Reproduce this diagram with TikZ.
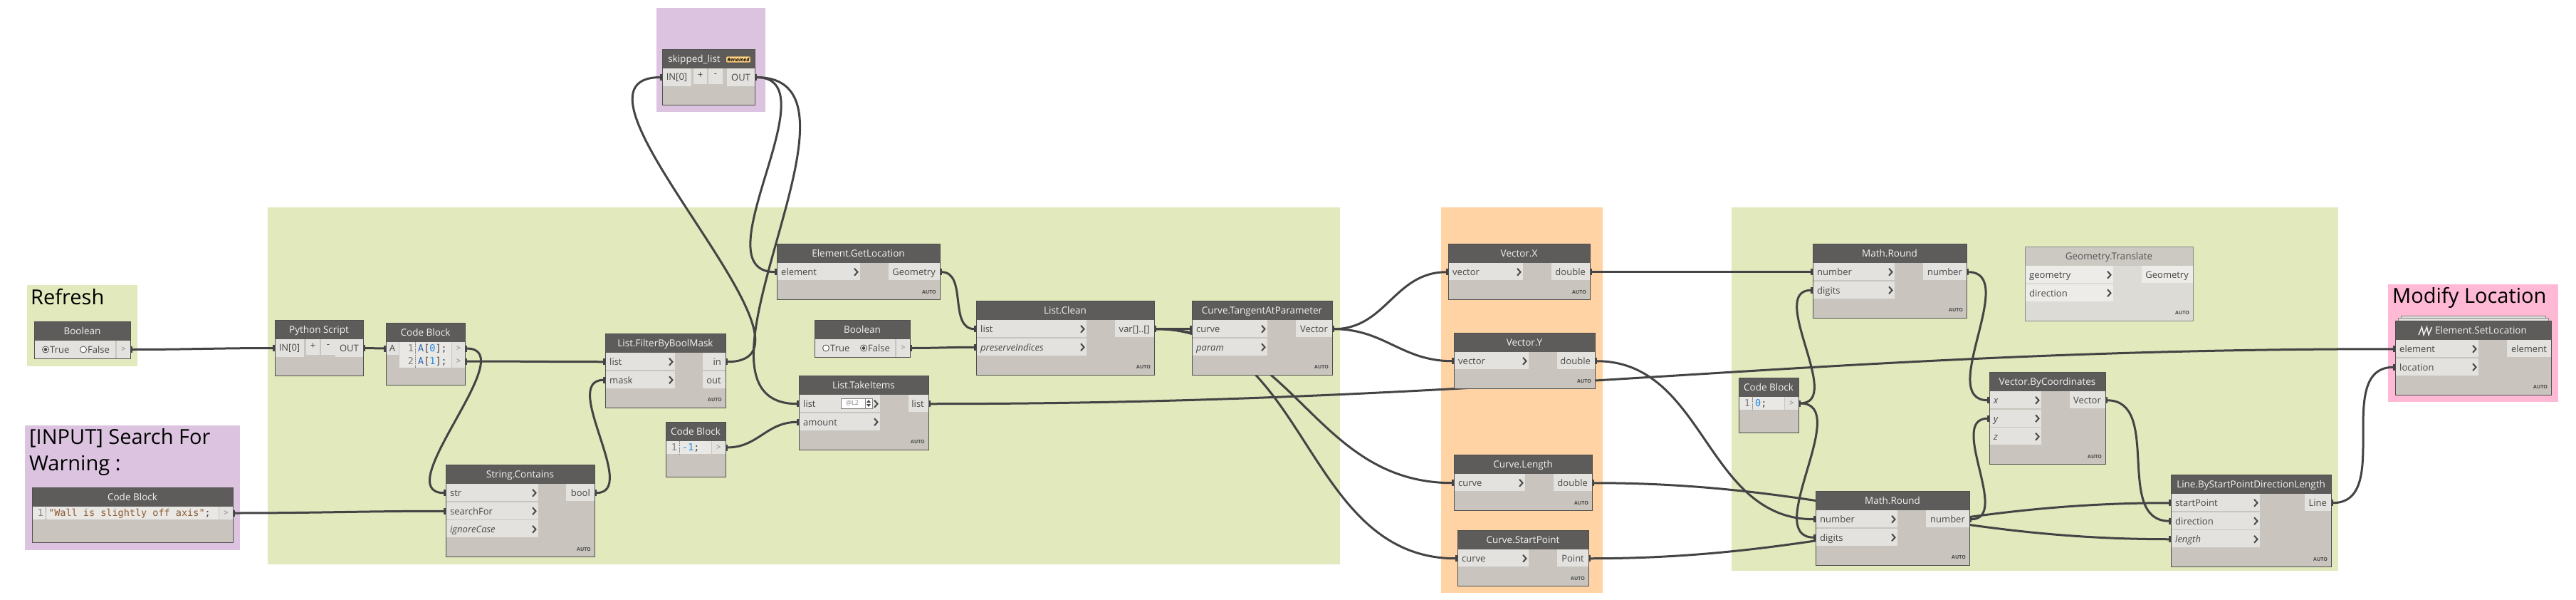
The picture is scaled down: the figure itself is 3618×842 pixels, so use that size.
\documentclass[tikz,border=0pt]{standalone}
\usepackage{fontspec}
\setmainfont{Open Sans}
\setmonofont{DejaVu Sans Mono}
\usetikzlibrary{arrows.meta,calc}
\pgfdeclarelayer{groups}
\pgfdeclarelayer{wires}
\pgfsetlayers{groups,wires,main}
% colours
\definecolor{grpgreen}{RGB}{225,233,189}
\definecolor{grporange}{RGB}{255,211,163}
\definecolor{grplilac}{RGB}{220,196,225}
\definecolor{grppink}{RGB}{255,185,213}
\definecolor{dhead}{RGB}{94,92,90}
\definecolor{dbody}{RGB}{201,197,190}
\definecolor{dport}{RGB}{227,226,222}
\definecolor{dcode}{RGB}{233,232,229}
\definecolor{nline}{RGB}{80,80,80}
\definecolor{wirec}{RGB}{68,68,68}
\definecolor{ptxt}{RGB}{72,72,72}
\definecolor{htc}{RGB}{244,244,244}
\definecolor{cvar}{RGB}{43,101,176}
\definecolor{cnum}{RGB}{30,136,229}
\definecolor{cstr}{RGB}{140,90,50}
\definecolor{badgec}{RGB}{255,210,128}
\tikzset{
  htext/.style={text=htc,font=\fontsize{13.5}{15}\selectfont,inner sep=0pt,anchor=base},
  ptext/.style={text=ptxt,font=\fontsize{13}{15}\selectfont,inner sep=0pt},
  autotxt/.style={text=ptxt,font=\fontsize{7}{8}\selectfont\bfseries,inner sep=0pt},
  nframe/.style={draw=nline,line width=1.2pt,inner sep=0pt},
  chev/.style={draw=ptxt,line width=2pt,line join=miter},
  wire/.style={draw=wirec,line width=3pt,arrows={Rectangle[length=3pt,width=9pt]-Rectangle[length=3pt,width=9pt]}},
  grouptitle/.style={font=\fontsize{29}{34}\selectfont,inner sep=0pt,anchor=base west},
  radio/.style={circle,draw=ptxt,fill=white,line width=.8pt,minimum size=9pt,inner sep=0pt},
  ctext/.style={font=\ttfamily\fontsize{13.5}{15}\selectfont,inner sep=0pt,text=ptxt,anchor=base west},
  lnum/.style={font=\ttfamily\fontsize{13.5}{15}\selectfont,inner sep=0pt,text=gray,anchor=base},
  lsep/.style={draw=gray,densely dotted,line width=.6pt},
  outmark/.style={text=gray,font=\fontsize{11}{12}\selectfont,inner sep=0pt},
  badge/.style={rounded corners=2pt,fill=badgec,draw=black!70,line width=.6pt,
    font=\fontsize{7}{8}\selectfont\bfseries\itshape,inner xsep=2pt,inner ysep=1pt,minimum height=9pt}
}
% name, x, y, width, title, inputs, outputs, input width, output width
\newcommand\dnode[9]{%
  \foreach \a [count=\k] in {#6} {\xdef\nin{\k}}%
  \foreach \a [count=\k] in {#7} {\xdef\nout{\k}}%
  \pgfmathsetmacro\nh{27+25.5*max(\nin,\nout)+25.5}%
  \begin{scope}[shift={(#2,#3)}]
    \fill[dbody] (0,0) rectangle (#4,\nh);
    \fill[dhead] (0,0) rectangle (#4,27);
    \node[htext] (#1-t) at (#4/2,18.5) {#5};
    \foreach \a [count=\k] in {#6} {
      \fill[dport] (0,{27+25.5*(\k-1)}) rectangle (#8,{25.5+25.5*\k});
      \node[ptext,anchor=base west] (#1-il\k) at (6,{32+25.5*(\k-.5)}) {\a};
      \draw[chev] ({#8-8},{22+25.5*(\k-.5)}) -- ++(4.5,5) -- ++(-4.5,5);
      \coordinate (#1-in\k) at (0,{27+25.5*(\k-.5)});
    }
    \foreach \a [count=\k] in {#7} {
      \fill[dport] ({#4-#9},{27+25.5*(\k-1)}) rectangle (#4,{25.5+25.5*\k});
      \node[ptext,anchor=base east] (#1-ol\k) at ({#4-6},{32+25.5*(\k-.5)}) {\a};
      \coordinate (#1-out\k) at (#4,{27+25.5*(\k-.5)});
    }
    \node[autotxt,anchor=base east] (#1-a) at ({#4-5},{\nh-8}) {AUTO};
    \node[nframe,minimum width=#4pt,minimum height=\nh pt,anchor=north west] (#1) at (0,0) {};
  \end{scope}}
% python script style node: name, x, y, width, title
\newcommand\pynode[5]{%
  \begin{scope}[shift={(#2,#3)}]
    \fill[dbody] (0,0) rectangle (#4,78);
    \fill[dhead] (0,0) rectangle (#4,27);
    \node[htext] (#1-t) at (#4/2,18.5) {#5};
    \fill[dport] (0,27) rectangle (41,52);
    \node[ptext] (#1-il1) at (20.5,39.5) {IN[0]};
    \fill[dport] (44,27) rectangle (63,49);
    \node[ptext] (#1-add) at (53.5,37) {+};
    \fill[dport] (65,27) rectangle (85,49);
    \node[ptext] (#1-del) at (75,37) {-};
    \fill[dport] ({#4-39},27) rectangle (#4,52);
    \node[ptext] (#1-ol1) at ({#4-19.5},39.5) {OUT};
    \coordinate (#1-in1) at (0,39.5);
    \coordinate (#1-out1) at (#4,39.5);
    \node[nframe,minimum width=#4pt,minimum height=78pt,anchor=north west] (#1) at (0,0) {};
  \end{scope}}
% boolean node: name, x, y, width, selected (1 or 2)
\newcommand\boolnode[5]{%
  \begin{scope}[shift={(#2,#3)}]
    \fill[dbody] (0,0) rectangle (#4,52);
    \fill[dhead] (0,0) rectangle (#4,27);
    \node[htext] (#1-t) at (#4/2,18.5) {Boolean};
    \fill[dport] (0,27) rectangle ({#4-21},52);
    \fill[dport] ({#4-19},27) rectangle (#4,52);
    \node[radio] (#1-r1) at (16,39.5) {};
    \node[ptext,anchor=base west] (#1-l1) at (22,44.5) {True};
    \node[radio] (#1-r2) at (69,39.5) {};
    \node[ptext,anchor=base west] (#1-l2) at (75,44.5) {False};
    \fill[ptxt] (#1-r#5) circle (2.4);
    \node[outmark] (#1-ol1) at ({#4-9.5},39.5) {>};
    \coordinate (#1-out1) at (#4,39.5);
    \node[nframe,minimum width=#4pt,minimum height=52pt,anchor=north west] (#1) at (0,0) {};
  \end{scope}}
% one line code block: name, x, y, width, code
\newcommand\cbnode[5]{%
  \begin{scope}[shift={(#2,#3)}]
    \fill[dbody] (0,0) rectangle (#4,77);
    \fill[dhead] (0,0) rectangle (#4,27);
    \node[htext] (#1-t) at (#4/2,18.5) {Code Block};
    \fill[dcode] (0,27) rectangle ({#4-20},45);
    \fill[dport] ({#4-19},27) rectangle (#4,45);
    \node[lnum] (#1-n1) at (12,40.5) {1};
    \draw[lsep] (19.5,27) -- (19.5,45);
    \node[ctext] (#1-c1) at (23,40.5) {#5};
    \node[outmark] (#1-ol1) at ({#4-9.5},36) {>};
    \coordinate (#1-out1) at (#4,36);
    \node[nframe,minimum width=#4pt,minimum height=77pt,anchor=north west] (#1) at (0,0) {};
  \end{scope}}
% dynamo style wire, handle offset from the port distance
\newcommand\wire[2]{\draw[wire] let \p1=(#1), \p2=(#2),
  \n1={0.39*(max(abs(\x2-\x1),abs(\y2-\y1))+0.4*min(abs(\x2-\x1),abs(\y2-\y1)))} in
  (#1) .. controls +(\n1,0) and +(-\n1,0) .. (#2);}
\begin{document}
\begin{tikzpicture}[x=1pt,y=-1pt]
\useasboundingbox (0,0) rectangle (3618,842);
\begin{pgfonlayer}{groups}
  \fill[white] (0,0) rectangle (3618,842);
  \fill[grpgreen] (38,400) rectangle (193,514);
  \fill[grplilac] (35,597) rectangle (337,772);
  \fill[grplilac] (922,11) rectangle (1075,157);
  \fill[grpgreen] (376,291) rectangle (1882,792);
  \fill[grporange] (2024,291) rectangle (2251,832);
  \fill[grpgreen] (2432,291) rectangle (3284,801);
  \fill[grppink] (3354,399) rectangle (3593,564);
\end{pgfonlayer}
\node[grouptitle] (refresh) at (43,427) {Refresh};
\node[grouptitle] (search) at (41,623) {[INPUT] Search For};
\node[grouptitle] (warning) at (41,660) {Warning :};
\node[grouptitle] (modify) at (3360,425) {Modify Location};

% inputs
\boolnode{refbool}{48}{451}{135}{1}
\pynode{python}{386}{449}{124}{Python Script}
\begin{scope}[shift={(542,453)}]
  \fill[dbody] (0,0) rectangle (111,87);
  \fill[dhead] (0,0) rectangle (111,27);
  \node[htext] (cbA-t) at (55.5,18.5) {Code Block};
  \fill[dport] (0,27) rectangle (18,45);
  \node[ptext] (cbA-il1) at (9,36) {A};
  \fill[dcode] (19,27) rectangle (92,63);
  \fill[dport] (93,27) rectangle (111,63);
  \node[lnum] (cbA-n1) at (35,40.5) {1};
  \node[lnum] (cbA-n2) at (35,58.5) {2};
  \draw[lsep] (41.5,27) -- (41.5,63);
  \node[ctext] (cbA-c1) at (45,40.5) {\textcolor{cvar}{A}[\textcolor{cnum}{0}];};
  \node[ctext] (cbA-c2) at (45,58.5) {\textcolor{cvar}{A}[\textcolor{cnum}{1}];};
  \node[outmark] (cbA-ol1) at (102,36) {>};
  \node[outmark] (cbA-ol2) at (102,54) {>};
  \coordinate (cbA-in1) at (0,36);
  \coordinate (cbA-out1) at (111,36);
  \coordinate (cbA-out2) at (111,54);
  \node[nframe,minimum width=111pt,minimum height=87pt,anchor=north west] (cbA) at (0,0) {};
\end{scope}
\cbnode{cbwarn}{45}{684}{282}{\textcolor{cstr}{"Wall is slightly off axis"};}
\dnode{filter}{850}{468}{169}{List.FilterByBoolMask}{list,mask}{in,out}{98}{32}
\dnode{contains}{626}{652}{209}{String.Contains}{str,searchFor,\textit{ignoreCase}}{bool}{130}{40}
\cbnode{cbneg}{935}{592}{84}{\textcolor{cnum}{-1};}
\pynode{skipped}{930}{69}{130}{skipped\_list\kern40pt}
\node[badge] (skipped-b) at (1037,83.5) {Renamed};

% list handling
\dnode{getloc}{1091}{342}{229}{Element.GetLocation}{element}{Geometry}{117}{72}
\dnode{take}{1122}{527}{182}{List.TakeItems}{list,amount}{list}{114}{28}
\draw[draw=gray,fill=white,line width=.6pt] (1181,559) rectangle (1225,573);
\node[font=\fontsize{9}{10}\selectfont,text=gray,inner sep=0pt] (take-lvl) at (1197,566) {@L2};
\draw[gray,line width=.6pt] (1215,559) -- (1215,573);
\fill[ptxt] (1217,565) -- (1223,565) -- (1220,561) -- cycle;
\fill[ptxt] (1217,567) -- (1223,567) -- (1220,571) -- cycle;
\boolnode{bool2}{1144}{449}{134}{2}
\dnode{clean}{1371}{422}{250}{List.Clean}{list,\textit{preserveIndices}}{var[]..[]}{155}{55}
\dnode{tangent}{1674}{422}{197}{Curve.TangentAtParameter}{curve,\textit{param}}{Vector}{106}{51}

% curve values
\dnode{vecx}{2034}{342}{199}{Vector.X}{vector}{double}{105}{54}
\dnode{vecy}{2042}{467}{198}{Vector.Y}{vector}{double}{105}{53}
\dnode{clen}{2042}{638}{194}{Curve.Length}{curve}{double}{100}{54}
\dnode{cstart}{2047}{744}{184}{Curve.StartPoint}{curve}{Point}{100}{44}

% rebuild line
\dnode{round1}{2546}{342}{216}{Math.Round}{number,digits}{number}{115}{61}
\begin{scope}
  \definecolor{dhead}{RGB}{204,200,194}\definecolor{dbody}{RGB}{221,219,214}
  \definecolor{dport}{RGB}{237,236,233}\definecolor{nline}{RGB}{140,140,140}
  \definecolor{htc}{RGB}{85,85,85}
  \dnode{translate}{2844}{346}{236}{Geometry.Translate}{geometry,direction}{Geometry}{124}{72}
\end{scope}
\cbnode{cbzero}{2442}{530}{84}{\textcolor{cnum}{0};}
\dnode{vecby}{2794}{522}{163}{Vector.ByCoordinates}{\textit{x},\textit{y},\textit{z}}{Vector}{73}{50}
\dnode{round2}{2550}{689}{216}{Math.Round}{number,digits}{number}{115}{61}
\dnode{linesp}{3049}{666}{225}{Line.ByStartPointDirectionLength}{startPoint,direction,\textit{length}}{Line}{125}{37}

% set location
\draw[draw=nline!70,fill=dport,line width=.8pt] (3372,443) rectangle (3575,451);
\draw[draw=nline!70,fill=dport,line width=.8pt] (3368,446.5) rectangle (3579,451);
\dnode{setloc}{3364}{450}{219}{\kern22pt Element.SetLocation}{element,location}{element}{117}{62}
\draw[htc,line width=1.4pt,line join=miter] (3397,470) -- (3401.5,459) -- (3404,470) -- (3408.5,459) -- (3411,470) -- (3415.5,459);

\begin{pgfonlayer}{wires}
  \wire{refbool-out1}{python-in1}
  \wire{python-out1}{cbA-in1}
  \wire{cbA-out1}{contains-in1}
  \wire{cbA-out2}{filter-in1}
  \wire{cbwarn-out1}{contains-in2}
  \wire{contains-out1}{filter-in2}
  \wire{filter-out1}{skipped-in1}
  \wire{skipped-out1}{getloc-in1}
  \wire{skipped-out1}{take-in1}
  \wire{cbneg-out1}{take-in2}
  \wire{getloc-out1}{clean-in1}
  \wire{bool2-out1}{clean-in2}
  \wire{clean-out1}{tangent-in1}
  \wire{clean-out1}{clen-in1}
  \wire{clean-out1}{cstart-in1}
  \wire{tangent-out1}{vecx-in1}
  \wire{tangent-out1}{vecy-in1}
  \wire{take-out1}{setloc-in1}
  \wire{vecx-out1}{round1-in1}
  \wire{vecy-out1}{round2-in1}
  \wire{cbzero-out1}{round1-in2}
  \wire{cbzero-out1}{round2-in2}
  \wire{round1-out1}{vecby-in1}
  \wire{round2-out1}{vecby-in2}
  \wire{clen-out1}{linesp-in3}
  \wire{cstart-out1}{linesp-in1}
  \wire{vecby-out1}{linesp-in2}
  \wire{linesp-out1}{setloc-in2}
\end{pgfonlayer}
\end{tikzpicture}
\end{document}
